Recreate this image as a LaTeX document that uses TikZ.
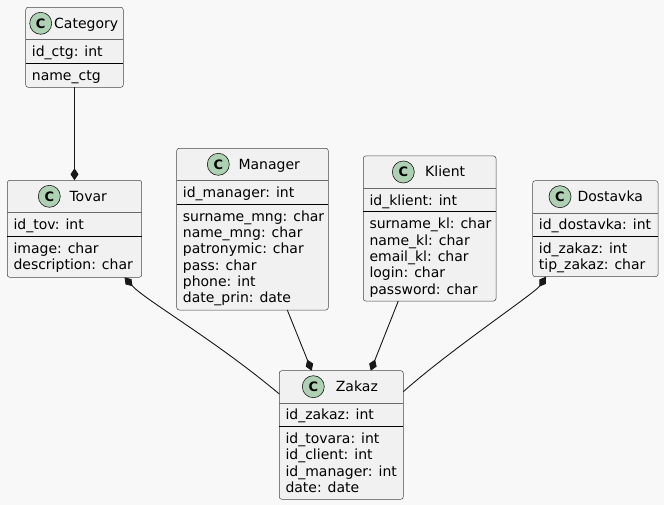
\documentclass[tikz,border=0pt]{standalone}
\usepackage{fontspec}
\setmainfont{DejaVu Sans}
\usetikzlibrary{arrows.meta,calc}
\definecolor{bgc}{HTML}{F8F8F8}
\definecolor{boxfill}{HTML}{F1F1F1}
\definecolor{lnc}{HTML}{181818}
\definecolor{circfill}{HTML}{ADD1B2}

\tikzset{
  classbox/.style={draw=lnc!80, fill=boxfill, line width=0.5pt, rounded corners=2.5pt, inner sep=0pt, outer sep=0pt},
  sepone/.style={draw=lnc!65, line width=0.5pt},
  septwo/.style={draw=black, line width=1pt},
  umlcirc/.style={circle, draw=lnc, fill=circfill, line width=0.6pt, minimum size=22pt, inner sep=0pt,
    font=\fontsize{13pt}{13pt}\selectfont\bfseries},
  umltitle/.style={anchor=base west, inner sep=0pt, font=\fontsize{14pt}{16.3pt}\selectfont},
  attr/.style={anchor=base west, inner sep=0pt, font=\fontsize{14pt}{16.3pt}\selectfont},
  conn/.style={draw=lnc, line width=0.9pt},
  compend/.style={conn, -{Diamond[length=12pt,width=8pt]}},
  compstart/.style={conn, {Diamond[length=12pt,width=8pt]}-},
}

% #1 name, #2 L, #3 T, #4 W, #5 H, #6 circle cx, #7 title x, #8 title
\newcommand\umlclass[8]{%
  \node[classbox, minimum width=#4pt, minimum height=#5pt, anchor=north west] (#1) at (#2,#3) {};
  \draw[sepone] ($(#1.north west)+(0,32.2)$) -- ($(#1.north east)+(0,32.2)$);
  \draw[septwo] ($(#1.north west)+(0,55.8)$) -- ($(#1.north east)+(0,55.8)$);
  \node[umlcirc] (#1-c) at (#6,#3+16) {C};
  \node[umltitle] (#1-t) at (#7,#3+21) {#8};
}
% #1 node name, #2 L, #3 T, #4 text
\newcommand\umlfield[4]{\node[attr] (#1) at (#2+6,#3+49.2) {#4};}
% #1 node name, #2 L, #3 T, #4 index, #5 text
\newcommand\umlmeth[5]{\node[attr] (#1) at (#2+6,#3+72.8+16.3*#4) {#5};}

\begin{document}
\begin{tikzpicture}[x=1pt,y=-1pt]
\fill[bgc] (0,0) rectangle (664,505);
\useasboundingbox (0,0) rectangle (664,505);

% Category
\umlclass{category}{25.7}{7.3}{97.6}{80}{40.7}{54}{Category}
\umlfield{category-f}{25.7}{7.3}{id\_ctg: int}
\umlmeth{category-m0}{25.7}{7.3}{0}{name\_ctg}

% Tovar
\umlclass{tovar}{7.3}{180.3}{134.4}{97}{49.3}{69.3}{Tovar}
\umlfield{tovar-f}{7.3}{180.3}{id\_tov: int}
\umlmeth{tovar-m0}{7.3}{180.3}{0}{image: char}
\umlmeth{tovar-m1}{7.3}{180.3}{1}{description: char}

% Manager
\umlclass{manager}{176.7}{148.3}{151.6}{161.7}{218.3}{238.3}{Manager}
\umlfield{manager-f}{176.7}{148.3}{id\_manager: int}
\umlmeth{manager-m0}{176.7}{148.3}{0}{surname\_mng: char}
\umlmeth{manager-m1}{176.7}{148.3}{1}{name\_mng: char}
\umlmeth{manager-m2}{176.7}{148.3}{2}{patronymic: char}
\umlmeth{manager-m3}{176.7}{148.3}{3}{pass: char}
\umlmeth{manager-m4}{176.7}{148.3}{4}{phone: int}
\umlmeth{manager-m5}{176.7}{148.3}{5}{date\_prin: date}

% Klient
\umlclass{klient}{363.3}{156}{132.7}{145}{403.3}{425}{Klient}
\umlfield{klient-f}{363.3}{156}{id\_klient: int}
\umlmeth{klient-m0}{363.3}{156}{0}{surname\_kl: char}
\umlmeth{klient-m1}{363.3}{156}{1}{name\_kl: char}
\umlmeth{klient-m2}{363.3}{156}{2}{email\_kl: char}
\umlmeth{klient-m3}{363.3}{156}{3}{login: char}
\umlmeth{klient-m4}{363.3}{156}{4}{password: char}

% Dostavka
\umlclass{dostavka}{532.7}{180.7}{125.3}{96}{560}{577.3}{Dostavka}
\umlfield{dostavka-f}{532.7}{180.7}{id\_dostavka: int}
\umlmeth{dostavka-m0}{532.7}{180.7}{0}{id\_zakaz: int}
\umlmeth{dostavka-m1}{532.7}{180.7}{1}{tip\_zakaz: char}

% Zakaz
\umlclass{zakaz}{279.3}{370.7}{124}{128.6}{313.3}{335.7}{Zakaz}
\umlfield{zakaz-f}{279.3}{370.7}{id\_zakaz: int}
\umlmeth{zakaz-m0}{279.3}{370.7}{0}{id\_tovara: int}
\umlmeth{zakaz-m1}{279.3}{370.7}{1}{id\_client: int}
\umlmeth{zakaz-m2}{279.3}{370.7}{2}{id\_manager: int}
\umlmeth{zakaz-m3}{279.3}{370.7}{3}{date: date}

% connectors
\coordinate (tz-a) at ($(tovar.south west)+(117.2,0)$);
\coordinate (tz-b) at ($(zakaz.north west)+(0,23.3)$);
\coordinate (mz-a) at ($(manager.south west)+(110.6,0)$);
\coordinate (mz-b) at ($(zakaz.north west)+(32.4,0)$);
\coordinate (kz-a) at ($(klient.south west)+(35,0)$);
\coordinate (kz-b) at ($(zakaz.north west)+(91.4,0)$);
\coordinate (dz-a) at ($(dostavka.south west)+(13.3,0)$);
\coordinate (dz-b) at ($(zakaz.north east)+(0,21)$);

\draw[compend] (category.south) -- (tovar.north);
\draw[compstart] (tz-a) .. controls (145,300) and (215,340) .. (tz-b);
\draw[compend] (mz-a) -- (mz-b);
\draw[compend] (kz-a) -- (kz-b);
\draw[compstart] (dz-a) .. controls (535,293) and (450,350) .. (dz-b);
\end{tikzpicture}
\end{document}
